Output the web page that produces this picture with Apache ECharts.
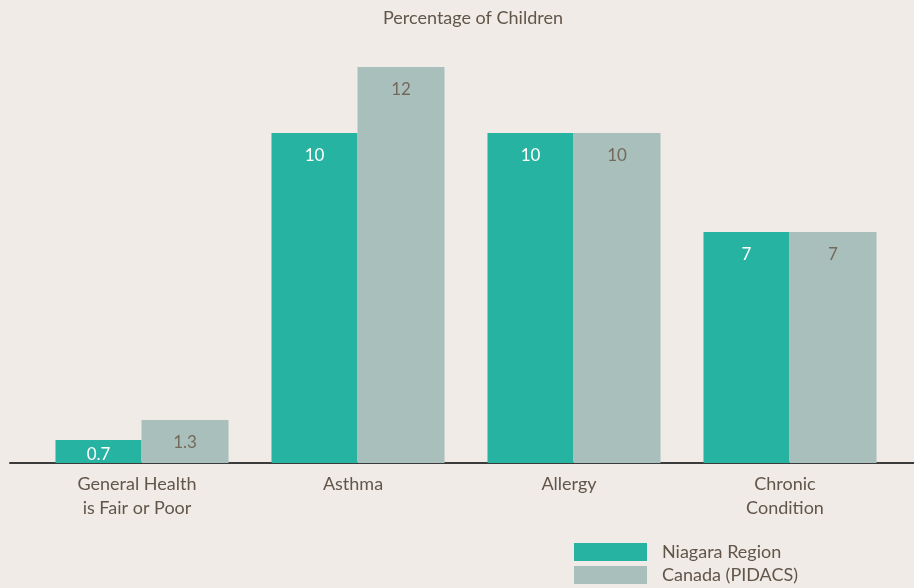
<!DOCTYPE html>
<html><head><meta charset="utf-8">
<script src="https://cdn.jsdelivr.net/npm/echarts@6/dist/echarts.min.js"></script>
<style>html,body{margin:0;padding:0;background:#f0ebe6;}#c{width:914px;height:588px;}</style>
</head><body><div id="c"></div>
<script>
const categories = ['General Health\nis Fair or Poor', 'Asthma', 'Allergy', 'Chronic\nCondition'];
const niagara = [0.7, 10, 10, 7];
const canada = [1.3, 12, 10, 7];
const seriesNames = ['Niagara Region', 'Canada (PIDACS)'];

const FONT = 'Lato';
const TXT = '#62554a';
const chart = echarts.init(document.getElementById('c'));
function lbl(color) {
  return {show: true, position: 'insideTop', distance: 14, color: color, fontFamily: FONT, fontSize: 17};
}
chart.setOption({
  backgroundColor: '#f0ebe6',
  animation: false,
  title: {text: 'Percentage of Children', left: 468, textAlign: 'center', top: 4,
    textStyle: {fontFamily: FONT, fontSize: 18, fontWeight: 'normal', color: TXT}},
  legend: {orient: 'vertical', left: 574, bottom: 4, padding: 0, itemWidth: 73, itemHeight: 18, itemGap: 5,
    icon: 'rect', textStyle: {fontFamily: FONT, fontSize: 18, color: TXT, padding: [0,0,0,10]},
    data: seriesNames},
  grid: [{left: 34, right: 16, top: 67, bottom: 125},
         {left: 10, right: 0, top: 67, bottom: 125}],
  xAxis: [{type: 'category', data: categories, gridIndex: 0,
    axisLine: {show: false}, axisTick: {show: false},
    axisLabel: {fontFamily: FONT, fontSize: 18, color: TXT, lineHeight: 24, margin: 9, padding: [0, 10, 0, 0]}},
    {type: 'category', data: ['x'], gridIndex: 1, axisLine: {show: true, lineStyle: {color: '#3b3b3b', width: 2}},
     axisTick: {show: false}, axisLabel: {show: false}}],
  yAxis: [{type: 'value', min: 0, max: 12, gridIndex: 0, show: false, splitLine: {show: false}},
          {type: 'value', min: 0, max: 12, gridIndex: 1, show: false, splitLine: {show: false}}],
  series: [
    {name: seriesNames[0], type: 'bar', barWidth: 86, barGap: 0, itemStyle: {color: '#27b3a2'},
      label: lbl('#ffffff'),
      data: niagara.map(v => v < 1 ? {value: v, label: {distance: 6}} : v)},
    {name: seriesNames[1], type: 'bar', barWidth: 87, barGap: 0, itemStyle: {color: '#a8bfbb'},
      label: lbl('#75685c'),
      data: canada}
  ]
});
</script></body></html>
